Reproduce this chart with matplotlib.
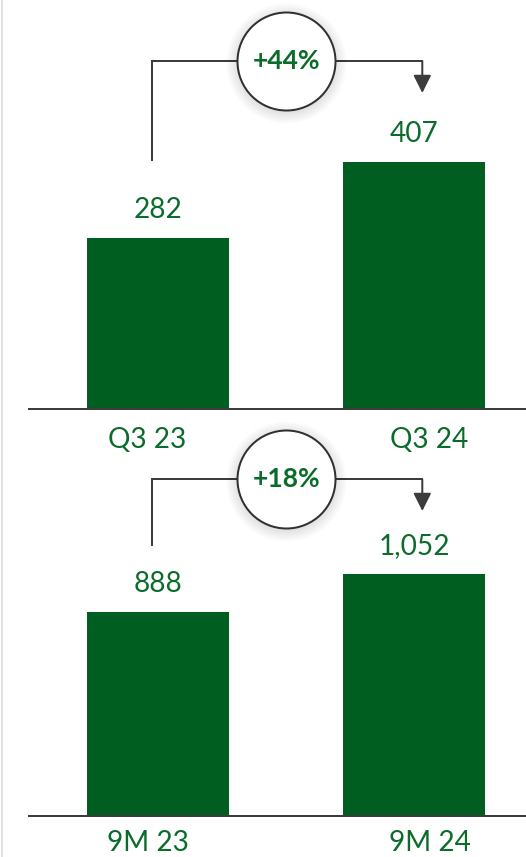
import matplotlib

matplotlib.use("Agg")
import matplotlib.pyplot as plt
from matplotlib.lines import Line2D
from matplotlib.transforms import offset_copy

plt.rcParams["font.family"] = ["Lato", "DejaVu Sans"]

# --- data -----------------------------------------------------------------
Q_LABELS = ["Q3 23", "Q3 24"]
Q_VALUES = [282, 407]
Q_CHANGE = "+44%"

YTD_LABELS = ["9M 23", "9M 24"]
YTD_VALUES = [888, 1052]
YTD_CHANGE = "+18%"

# --- style ----------------------------------------------------------------
W, H, DPI = 526, 857, 100
PX = 72 / DPI                 # points per pixel
GREEN = "#005f20"
TEXT_GREEN = "#0b6b2a"
LINE = "#3c3c3c"


def panel(fig, baseline_px, top_px, scale, labels, values, change,
          level_px, start_px, tip_px, label_drop=39):
    """One before/after bar pair with the growth bubble above it.

    Vertical layout values (level/start/tip) are pixels above the baseline.
    """
    ax = fig.add_axes([29 / W, (H - baseline_px) / H, 497 / W,
                       (baseline_px - top_px) / H])
    ax.patch.set_alpha(0)
    x = [0, 1]
    ax.bar(x, values, width=0.555, color=GREEN, zorder=2)
    ax.set_xlim(-0.504, 1.437)
    ax.set_ylim(0, (baseline_px - top_px) / scale)
    for s in ("top", "right", "left"):
        ax.spines[s].set_visible(False)
    ax.spines["bottom"].set_color(LINE)
    ax.spines["bottom"].set_linewidth(2 * PX)
    ax.spines["bottom"].set_zorder(3)
    ax.set_xticks([])
    ax.set_yticks([])

    for xi, v in zip(x, values):
        ax.annotate(f"{v:,}", (xi, v), xytext=(0, 20 * PX),
                    textcoords="offset points", ha="center", va="baseline",
                    fontsize=28 * PX, color=TEXT_GREEN)
    for xi, lab, dx in zip(x, labels, (-10.5, 15.5)):
        ax.annotate(lab, (xi, 0), xytext=(dx * PX, -label_drop * PX),
                    textcoords="offset points", ha="center", va="baseline",
                    fontsize=28 * PX, color=TEXT_GREEN, annotation_clip=False)

    # connector: up from the first bar, across, arrow down to the second
    lx, rx = -0.024, 1.032
    lvl = level_px / scale
    ax.plot([lx, lx, rx], [start_px / scale, lvl, lvl], color=LINE,
            lw=2 * PX, clip_on=False, zorder=4,
            solid_joinstyle="miter", solid_capstyle="projecting")
    ax.annotate("", xy=(rx, tip_px / scale), xytext=(rx, lvl),
                arrowprops=dict(arrowstyle="-|>,head_length=1.08,head_width=0.54",
                                color=LINE, lw=2 * PX, shrinkA=0, shrinkB=0),
                annotation_clip=False, zorder=4)

    # soft shadow behind the bubble
    shadow = offset_copy(ax.transData, fig=fig, x=0, y=-2, units="dots")
    for k in range(10):
        ax.plot(0.5, lvl, "o", ms=(98 + 2.5 * k) * PX, color="k", alpha=0.012,
                mew=0, transform=shadow, clip_on=False, zorder=4.5)
    ax.plot(0.5, lvl, "o", ms=98 * PX, mfc="white", mec="#303030",
            mew=2 * PX, clip_on=False, zorder=5)
    ax.text(0.5, lvl, change, ha="center", va="center", fontsize=26.5 * PX,
            fontweight="bold", color=TEXT_GREEN, zorder=6)
    return ax


fig = plt.figure(figsize=(W / DPI, H / DPI), dpi=DPI)
fig.add_artist(Line2D([2 / W, 2 / W], [0, 1], color="#e4e4e4", lw=2 * PX))

panel(fig, 409, 0, 0.606, Q_LABELS, Q_VALUES, Q_CHANGE,
      level_px=348, start_px=249, tip_px=316)
panel(fig, 816, 420, 0.2297, YTD_LABELS, YTD_VALUES, YTD_CHANGE,
      level_px=336.5, start_px=271, tip_px=305, label_drop=35)

fig.savefig("out.png", dpi=DPI)
